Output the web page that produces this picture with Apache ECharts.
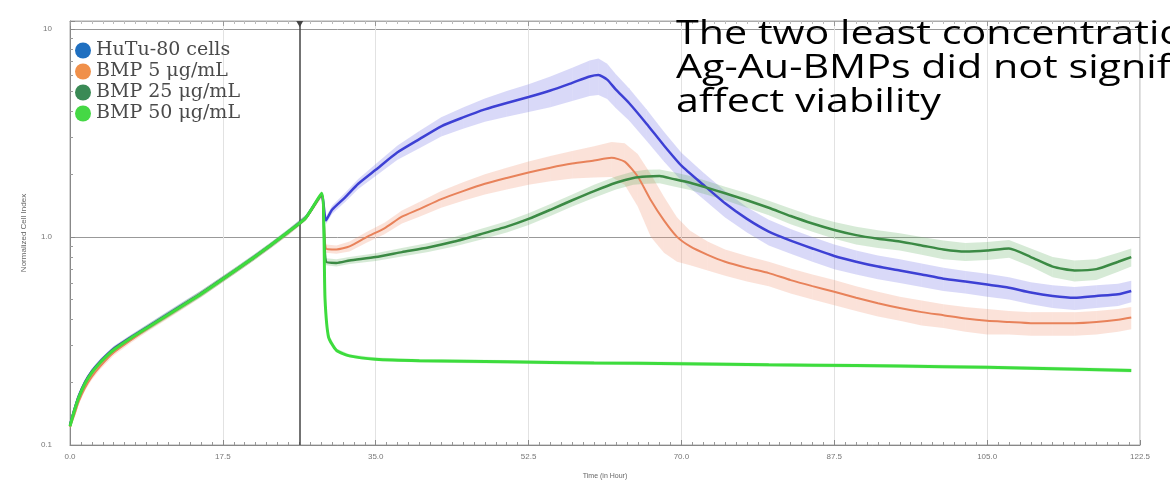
<!DOCTYPE html>
<html>
<head>
<meta charset="utf-8">
<script src="https://cdn.jsdelivr.net/npm/echarts@6/dist/echarts.min.js"></script>
<style>
html,body{margin:0;padding:0;background:#fff;}
#chart{width:1170px;height:491px;}
</style>
</head>
<body>
<div id="chart"></div>
<script>
// ---- data (time in hours, Normalized Cell Index) ----
const seriesNames = ["HuTu-80 cells", "BMP 5 μg/mL", "BMP 25 μg/mL", "BMP 50 μg/mL"];
const xTickInterval = 17.5;
const xMax = 122.5;
const treatmentTime = 26.3;

const preTime = [0,0.5,1,1.7,2.5,3.5,5,7,9,11,13,15,17,19,21,23,25,27,28.8];
const preSD   = [.003,.004,.005,.006,.007,.008,.009,.01,.012,.014,.016,.018,.02,.022,.025,.028,.032,.036,.04];

const hutuPreValue  = [0.125,0.148,0.172,0.2,0.226,0.253,0.29,0.33,0.372,0.42,0.474,0.535,0.61,0.695,0.795,0.915,1.06,1.24,1.59];
const bmp5PreValue  = [0.122,0.14,0.162,0.188,0.213,0.24,0.278,0.32,0.365,0.413,0.468,0.53,0.605,0.69,0.79,0.91,1.05,1.23,1.58];
const bmp25PreValue = [0.124,0.147,0.17,0.198,0.224,0.251,0.288,0.328,0.37,0.418,0.472,0.533,0.608,0.693,0.793,0.913,1.057,1.235,1.6];
const bmp50PreValue = [0.123,0.146,0.169,0.197,0.223,0.25,0.286,0.327,0.369,0.417,0.471,0.532,0.607,0.694,0.794,0.915,1.058,1.236,1.62];

const hutuPostTime  = [29.3,30,31.5,33,35,37.5,40,42.5,45,47.5,50,52.5,55,57.5,59.5,60.5,61.5,62.5,64,66,68,70,72.5,75,77.5,80,82.5,85,87.5,90,92.5,95,97.5,100,102.5,105,107.5,110,112.5,115,117.5,120,121.5];
const hutuPostValue = [1.20,1.35,1.55,1.80,2.10,2.55,2.95,3.40,3.75,4.10,4.40,4.70,5.05,5.50,5.90,6.00,5.70,5.10,4.40,3.50,2.75,2.20,1.78,1.45,1.22,1.06,0.96,0.88,0.81,0.76,0.72,0.69,0.66,0.63,0.61,0.59,0.57,0.54,0.52,0.51,0.52,0.53,0.55];
const hutuPostSD    = [.05,.06,.08,.10,.14,.2,.28,.36,.44,.52,.62,.72,.85,1.0,1.15,1.2,1.1,.95,.78,.6,.45,.34,.26,.21,.17,.15,.13,.12,.11,.1,.095,.09,.085,.08,.075,.075,.07,.065,.065,.065,.065,.065,.065];

const bmp5PostTime  = [29.3,30.5,32,34,36,38,40,42.5,45,47.5,50,52.5,55,57.5,60,62,63.5,65,66.5,68,69.5,71,73,75,77.5,80,82.5,85,87.5,90,92.5,95,97.5,100,102.5,105,107.5,110,112.5,115,117.5,120,121.5];
const bmp5PostValue = [0.88,0.87,0.90,1.0,1.1,1.25,1.36,1.52,1.66,1.80,1.92,2.04,2.15,2.25,2.33,2.40,2.30,1.95,1.50,1.20,1.00,0.90,0.82,0.76,0.71,0.67,0.62,0.58,0.545,0.51,0.48,0.455,0.435,0.42,0.405,0.395,0.39,0.385,0.385,0.385,0.39,0.40,0.41];
const bmp5PostSD    = [.04,.04,.05,.06,.07,.09,.11,.14,.17,.2,.23,.26,.3,.34,.4,.46,.52,.55,.5,.36,.24,.17,.13,.11,.1,.09,.085,.08,.075,.07,.065,.06,.06,.055,.055,.055,.05,.05,.05,.05,.05,.05,.05];

const bmp25PostTime  = [29.3,30.5,32,35,38,41,44,47,50,52.5,55,57.5,60,62.5,64.5,66,67.5,69,71,73,75,77.5,80,82.5,85,87.5,90,92.5,95,97.5,100,102.5,105,107.5,110,112.5,115,117.5,120,121.5];
const bmp25PostValue = [0.76,0.75,0.77,0.80,0.845,0.89,0.95,1.03,1.12,1.22,1.35,1.50,1.66,1.82,1.92,1.95,1.96,1.90,1.82,1.72,1.62,1.50,1.38,1.26,1.16,1.08,1.02,0.98,0.95,0.91,0.87,0.85,0.86,0.88,0.80,0.72,0.69,0.70,0.76,0.80];
const bmp25PostSD    = [.03,.03,.03,.035,.04,.045,.05,.06,.07,.08,.09,.1,.12,.13,.14,.15,.15,.15,.14,.13,.12,.12,.11,.11,.1,.1,.1,.095,.09,.09,.09,.085,.085,.085,.08,.08,.08,.08,.08,.08];

const bmp50PostTime  = [29.2,29.6,30.5,32,35,40,50,60,70,80,90,100,110,121.5];
const bmp50PostValue = [0.50,0.33,0.285,0.268,0.258,0.254,0.251,0.248,0.246,0.243,0.241,0.238,0.234,0.228];
const bmp50PostSD    = [.02,.01,.006,.005,.005,.005,.005,.005,.005,.005,.005,.005,.005,.005];

const annotationLines = ["The two least concentrations of", "Ag-Au-BMPs did not significantly", "affect viability"];

// ---- styles ----
const legendColors = ['#1f6fc0', '#f0904a', '#3a8a55', '#45d845'];
const lineColors   = ['#3d40d4', '#e8825a', '#3b8a44', '#3ddc3d'];
const bandColors   = ['rgba(120,120,230,0.28)', 'rgba(240,150,120,0.28)', 'rgba(90,170,90,0.25)', 'rgba(80,220,80,0.25)'];
const lineWidths   = [2.5, 2, 2.5, 3];

const groups = [
  {time: preTime.concat(hutuPostTime),  value: hutuPreValue.concat(hutuPostValue),  sd: preSD.concat(hutuPostSD)},
  {time: preTime.concat(bmp5PostTime),  value: bmp5PreValue.concat(bmp5PostValue),  sd: preSD.concat(bmp5PostSD)},
  {time: preTime.concat(bmp25PostTime), value: bmp25PreValue.concat(bmp25PostValue), sd: preSD.concat(bmp25PostSD)},
  {time: preTime.concat(bmp50PostTime), value: bmp50PreValue.concat(bmp50PostValue), sd: preSD.concat(bmp50PostSD)}
];

const chart = echarts.init(document.getElementById('chart'), null, {renderer: 'canvas'});

const series = [];
groups.forEach((g, k) => {
  const lo = g.value.map((v, i) => Math.max(0.105, v - g.sd[i]));
  const hi = g.value.map((v, i) => v + g.sd[i]);
  series.push({
    type: 'custom',
    name: seriesNames[k] + ' sd',
    silent: true,
    clip: true,
    z: 1 + k,
    data: g.time.map((t, i) => [t, lo[i], hi[i]]),
    encode: {x: 0, y: [1, 2]},
    renderItem: function (params, api) {
      const i = params.dataIndex;
      if (i >= g.time.length - 1) return;
      const a = api.coord([g.time[i], hi[i]]);
      const b = api.coord([g.time[i + 1], hi[i + 1]]);
      const c = api.coord([g.time[i + 1], lo[i + 1]]);
      const d = api.coord([g.time[i], lo[i]]);
      return {type: 'polygon', shape: {points: [a, b, c, d]}, style: {fill: bandColors[k], stroke: null}};
    }
  });
});
groups.forEach((g, k) => {
  const s = {
    type: 'line',
    name: seriesNames[k],
    data: g.time.map((t, i) => [t, g.value[i]]),
    showSymbol: false,
    smooth: 0.2,
    z: 10 + k,
    itemStyle: {color: legendColors[k]},
    lineStyle: {color: lineColors[k], width: lineWidths[k]},
    emphasis: {disabled: true}
  };
  if (k === 0) {
    s.markLine = {
      silent: true, symbol: ['none', 'none'], label: {show: false},
      lineStyle: {color: '#444', width: 1.5, type: 'solid'},
      data: [{xAxis: treatmentTime}]
    };
    s.markPoint = {
      silent: true, symbol: 'triangle', symbolRotate: 180, symbolSize: [7, 6], symbolOffset: [0, 3],
      itemStyle: {color: '#444'}, label: {show: false},
      data: [{coord: [treatmentTime, 10.9]}]
    };
  }
  series.push(s);
});

chart.setOption({
  animation: false,
  backgroundColor: '#fff',
  grid: {left: 70, right: 30, top: 21, bottom: 46, show: true, borderColor: '#aaa', borderWidth: 1},
  legend: {
    data: seriesNames, orient: 'vertical', left: 70, top: 36, icon: 'circle',
    itemWidth: 16, itemHeight: 16, itemGap: 2,
    textStyle: {fontFamily: 'DejaVu Serif', fontSize: 19, color: '#4a4a4a', lineHeight: 19},
    selectedMode: false
  },
  xAxis: [{
    type: 'value', min: 0, max: xMax, interval: xTickInterval,
    name: 'Time (in Hour)', nameLocation: 'middle', nameGap: 28,
    nameTextStyle: {fontSize: 7, color: '#666'},
    axisLine: {lineStyle: {color: '#888'}},
    axisTick: {inside: true, length: 5, lineStyle: {color: '#888'}},
    minorTick: {show: true, splitNumber: 14, length: 3, lineStyle: {color: '#999'}},
    axisLabel: {fontSize: 8, color: '#777', margin: 8, formatter: v => v.toFixed(1)},
    splitLine: {show: true, lineStyle: {color: '#e2e2e2'}}
  }, {
    type: 'value', position: 'top', min: 0, max: xMax, interval: xTickInterval,
    axisLine: {show: true, lineStyle: {color: '#aaa'}},
    axisTick: {inside: true, length: 5, lineStyle: {color: '#999'}},
    minorTick: {show: true, splitNumber: 14, length: 3, lineStyle: {color: '#bbb'}},
    axisLabel: {show: false}, splitLine: {show: false}
  }],
  yAxis: {
    type: 'log', logBase: 10, min: 0.1, max: 10.9,
    name: 'Normalized Cell Index', nameLocation: 'middle', nameGap: 42,
    nameTextStyle: {fontSize: 8, color: '#666'},
    axisLine: {show: true, lineStyle: {color: '#888'}},
    axisTick: {inside: true, length: 5, lineStyle: {color: '#888'}},
    minorTick: {show: true, splitNumber: 9, length: 3, lineStyle: {color: '#999'}},
    axisLabel: {fontSize: 8, color: '#777', margin: 18, formatter: v => (v >= 10 ? '10' : v.toFixed(1))},
    splitLine: {show: true, lineStyle: {color: '#999'}}
  },
  graphic: [{
    type: 'text', left: 676, top: 18, scaleX: 1.25, z: 100,
    style: {text: annotationLines.join('\n'), font: '33px "Open Sans"', fill: '#000', lineHeight: 34}
  }],
  series: series
});
</script>
</body>
</html>
